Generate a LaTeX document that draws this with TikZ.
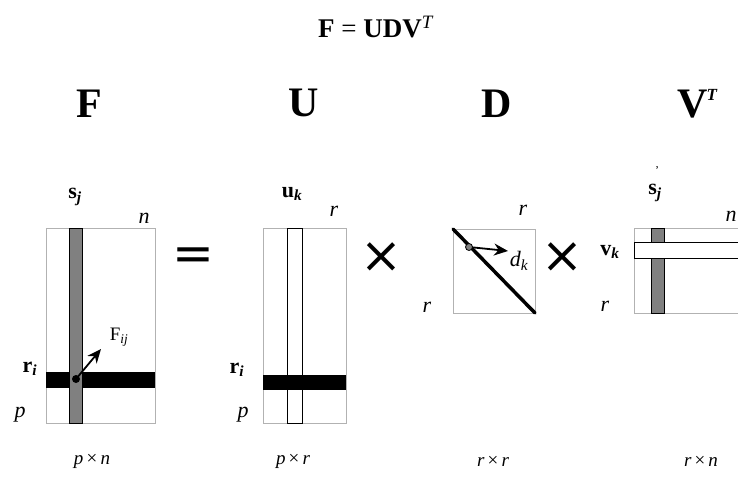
\documentclass[tikz,border=0pt]{standalone}
\usepackage{fontspec}
\setmainfont{Liberation Serif}
\newfontfamily\opfont{DejaVu Sans}
\usetikzlibrary{arrows.meta}

\begin{document}
\begin{tikzpicture}[x=1pt, y=-1pt,
  lbl/.style={inner sep=0pt, font=\fontsize{22}{22}\selectfont\itshape},
  vec/.style={inner sep=0pt, font=\fontsize{22}{22}\selectfont\bfseries},
  big/.style={inner sep=0pt, font=\fontsize{42}{42}\selectfont\bfseries},
  dims/.style={inner sep=0pt, font=\fontsize{19}{19}\selectfont\itshape},
  op/.style={inner sep=0pt, font=\fontsize{50}{50}\selectfont\opfont},
  mat/.style={draw=gray!60, line width=0.8pt, fill=white},
  darkstrip/.style={draw=black, line width=1pt, fill=gray},
  whitestrip/.style={draw=black, line width=1pt, fill=white},
  dot/.style={circle, fill=black, inner sep=0pt, minimum size=8pt},
  arr/.style={-{Stealth[length=14pt, width=12pt]}, line width=1.8pt}
]
\useasboundingbox (0,0) rectangle (738,476);

% title and matrix names
\node[inner sep=0pt, font=\fontsize{27}{27}\selectfont] (eq) at (376,27)
  {\textbf{F} = \textbf{UDV}\textsuperscript{\textit{T}}};
\node[big] (nF) at (89,104) {F};
\node[big] (nU) at (304,103) {U};
\node[big] (nD) at (497,104) {D};
\node[big, anchor=west] (nV) at (677,104) {V\kern-1pt\raisebox{17pt}{\fontsize{17}{17}\selectfont\textit{T}}};

% F
\draw[mat] (46,228) rectangle (155,423);
\fill (46,372) rectangle (155,388);
\draw[darkstrip] (69,228) rectangle (82,423);
\node[dot] (Fdot) at (76,379) {};
\coordinate (Ftip) at (101,349);
\draw[arr] (Fdot.center) -- (Ftip);
\node[vec] (sj) at (75,197) {s\textsubscript{\textit{j}}};
\node[lbl] (nFn) at (144,218) {n};
\node[inner sep=0pt, font=\fontsize{19}{19}\selectfont] (Fij) at (119,337) {F\textsubscript{\textit{ij}}};
\node[vec] (ri) at (30,369) {r\textsubscript{\textit{i}}};
\node[lbl] (pF) at (20,415) {p};

\node[op] (eqsign) at (193,259) {=};

% U
\draw[mat] (263,228) rectangle (346,423);
\draw[whitestrip] (287,228) rectangle (302,423);
\fill (263,375) rectangle (346,390);
\node[vec] (uk) at (292,194) {u\textsubscript{\textit{k}}};
\node[lbl] (rU) at (334,211) {r};
\node[vec] (riU) at (237,370) {r\textsubscript{\textit{i}}};
\node[lbl] (pU) at (243,415) {p};

\node[op] (times1) at (381,258) {×};

% D
\draw[mat] (453,229) rectangle (535,313);
\draw[line width=3.5pt, line cap=round] (453,229) -- (535,313);
\node[circle, draw=black, fill=gray, line width=0.8pt, inner sep=0pt, minimum size=7pt] (Ddot) at (469,247) {};
\coordinate (Dtip) at (508,251);
\draw[arr] (Ddot) -- (Dtip);
\node[lbl] (dk) at (519,261) {d\textsubscript{\textit{k}}};
\node[lbl] (rDt) at (523,210) {r};
\node[lbl] (rDl) at (427,307) {r};

\node[op] (times2) at (562,258) {×};

% V^T
\draw[mat] (634,228) rectangle (770,313);
\draw[darkstrip] (651,228) rectangle (664,313);
\draw[whitestrip] (634,242) rectangle (770,258);
\node[vec] (sjp) at (655,193) {s\textsubscript{\textit{j}}};
\node[inner sep=0pt, font=\fontsize{12}{12}\selectfont] (prime) at (657,171) {'};
\node[lbl] (nV2) at (731,216) {n};
\node[vec] (vk) at (610,252) {v\textsubscript{\textit{k}}};
\node[lbl] (rV) at (605,306) {r};

% sizes
\node[dims] (dF) at (92,461) {p\,\textup{×}\,n};
\node[dims] (dU) at (293,461) {p\,\textup{×}\,r};
\node[dims] (dD) at (493,461) {r\,\textup{×}\,r};
\node[dims] (dV) at (701,461) {r\,\textup{×}\,n};
\end{tikzpicture}
\end{document}
